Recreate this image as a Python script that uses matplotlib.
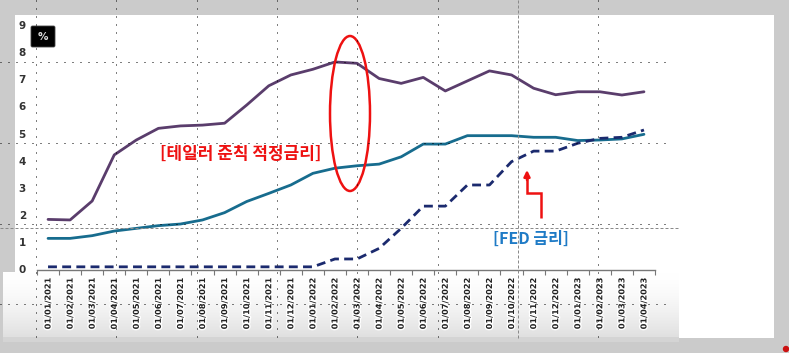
import matplotlib
matplotlib.use("Agg")
import matplotlib.pyplot as plt
import numpy as np
from matplotlib.patches import Rectangle, Ellipse, FancyBboxPatch, Circle
import matplotlib.patheffects as pe

plt.rcParams['font.family'] = ['DejaVu Sans']

# ---------------- data ----------------
months = ['01/01/2021', '01/02/2021', '01/03/2021', '01/04/2021', '01/05/2021', '01/06/2021',
          '01/07/2021', '01/08/2021', '01/09/2021', '01/10/2021', '01/11/2021', '01/12/2021',
          '01/01/2022', '01/02/2022', '01/03/2022', '01/04/2022', '01/05/2022', '01/06/2022',
          '01/07/2022', '01/08/2022', '01/09/2022', '01/10/2022', '01/11/2022', '01/12/2022',
          '01/01/2023', '01/02/2023', '01/03/2023', '01/04/2023']
taylor_rate = [1.83, 1.81, 2.51, 4.21, 4.76, 5.19, 5.28, 5.31, 5.38, 6.05, 6.76, 7.16, 7.37, 7.64,
               7.59, 7.03, 6.85, 7.07, 6.57, 6.94, 7.31, 7.16, 6.67, 6.43, 6.54, 6.54, 6.42, 6.54]
blue_rate = [1.13, 1.13, 1.23, 1.40, 1.50, 1.60, 1.66, 1.81, 2.08, 2.49, 2.79, 3.10, 3.53, 3.72,
             3.81, 3.87, 4.14, 4.61, 4.61, 4.92, 4.92, 4.92, 4.86, 4.86, 4.74, 4.76, 4.80, 4.97]
fed_rate = [0.08, 0.08, 0.08, 0.08, 0.08, 0.08, 0.08, 0.08, 0.08, 0.08, 0.08, 0.08, 0.08, 0.37,
            0.37, 0.76, 1.50, 2.32, 2.32, 3.10, 3.10, 3.96, 4.35, 4.35, 4.64, 4.82, 4.86, 5.13]
y_ticks = [0, 1, 2, 3, 4, 5, 6, 7, 8, 9]
taylor_label = '[테일러 준칙 적정금리]'
fed_label = '[FED 금리]'

W, H = 789, 353
fig = plt.figure(figsize=(W / 100, H / 100), dpi=100)
fig.patch.set_facecolor('#cbcbcb')

def fx(px):
    return px / W

def fy(py):
    return 1 - py / H

# ---------------- background (pixel coords) ----------------
bg = fig.add_axes([0, 0, 1, 1], zorder=0)
bg.axis('off')
bg.add_patch(Rectangle((15, 15), 759, 323, facecolor='white', edgecolor='none'))
# bottom gradient band under the axis
n = 64
cols = np.zeros((n, 1, 3))
top_c = np.array([1.0, 1.0, 1.0])
bot_c = np.array([0.87, 0.87, 0.87])
for k in range(n):
    t = k / (n - 1)
    cols[k, 0, :] = top_c * (1 - t ** 1.6) + bot_c * (t ** 1.6)
bg.imshow(cols, extent=[3, 679, 340, 272], aspect='auto', zorder=1, interpolation='bilinear')
bg.add_patch(Rectangle((3, 337), 676, 5, facecolor='#d4d4d4', edgecolor='none', zorder=1.5))
bg.set_xlim(0, W)
bg.set_ylim(H, 0)

# ---------------- data axes ----------------
ax_l, ax_r, ax_t, ax_b = 37, 655, 20, 270
ax = fig.add_axes([fx(ax_l), fy(ax_b), fx(ax_r - ax_l), (ax_b - ax_t) / H], zorder=2)
ax.patch.set_alpha(0)
x = np.arange(len(months))
ax.plot(x, taylor_rate, color='#5a3d6c', lw=2.0, solid_capstyle='round', zorder=3)
ax.plot(x, blue_rate, color='#176c8e', lw=2.0, solid_capstyle='round', zorder=3)
ax.plot(x, fed_rate, color='#1b2a6e', lw=2.0, dashes=(3.2, 1.9), zorder=4)

ax.set_xlim(-0.5, len(months) - 0.5)
ax.set_ylim((269 - ax_b) / 27.1, (269 - ax_t) / 27.1)
for s in ['top', 'right', 'left']:
    ax.spines[s].set_visible(False)
ax.spines['bottom'].set_color('#777777')
ax.spines['bottom'].set_linewidth(1.0)

ax.set_yticks(y_ticks)
ax.set_yticklabels([str(v) for v in y_ticks], fontsize=7.5, fontweight='bold', color='#333333')
ax.tick_params(axis='y', length=0, pad=8)

ax.set_xticks(x)
ax.set_xticklabels(months, rotation=90, fontsize=5.9, fontweight='bold', color='#222222',
                   va='top', ha='center')
for lab in ax.get_xticklabels():
    lab.set_path_effects([pe.withStroke(linewidth=2, foreground='white')])
ax.set_xticks(np.arange(-0.5, len(months), 1.0), minor=True)
ax.tick_params(axis='x', which='major', length=0, pad=6)
ax.tick_params(axis='x', which='minor', length=3.5, width=0.8, color='#777777', direction='out')

# ---------------- overlay annotations (pixel coords) ----------------
fg = fig.add_axes([0, 0, 1, 1], zorder=5)
fg.patch.set_alpha(0)
fg.set_xlim(0, W)
fg.set_ylim(H, 0)
fg.axis('off')

# % box
fg.add_patch(FancyBboxPatch((31, 26), 24, 21, boxstyle='round,pad=0,rounding_size=1.5',
                            facecolor='black', edgecolor='#444444', lw=0.6))
fg.text(43, 37, '%', color='#dddddd', fontsize=7.5, fontweight='bold', ha='center', va='center')

# red ellipse
fg.add_patch(Ellipse((350, 113.5), 40, 155, facecolor='none', edgecolor='#ee1111', lw=1.8))

# texts
fg.text(241, 154, taylor_label, color='#ee1111', fontsize=12.2, fontweight='bold',
        ha='center', va='center', family=['Noto Sans CJK KR', 'DejaVu Sans'])
fg.text(531, 239, fed_label, color='#1f7bc6', fontsize=11.5, fontweight='bold',
        ha='center', va='center', family=['Noto Sans CJK KR', 'DejaVu Sans'])

# red arrow
fg.plot([541, 541, 527, 527], [218, 193, 193, 178], color='#ee1111', lw=1.8,
        solid_joinstyle='miter', solid_capstyle='butt')
fg.annotate('', xy=(527, 170), xytext=(527, 180),
            arrowprops=dict(arrowstyle='-|>', color='#ee1111', lw=1.8, mutation_scale=9,
                            shrinkA=0, shrinkB=0))

# slide guides
dot = dict(color='black', lw=0.72, dashes=(1, 7))
for gx in [36, 116, 197, 277, 357, 438, 598]:
    fg.plot([gx, gx], [0, 338], **dot)
for gy in [62, 143, 224, 304]:
    fg.plot([0, 672], [gy, gy], **dot)
gdash = dict(color='#8a8a8a', lw=0.72, dashes=(3, 2))
fg.plot([518, 518], [0, 338], **gdash)
fg.plot([0, 678], [228, 228], **gdash)

# small red dot
fg.add_patch(Circle((786, 349), 2.5, color='#cc1111'))

fig.savefig('out.png', dpi=100, facecolor=fig.get_facecolor())
